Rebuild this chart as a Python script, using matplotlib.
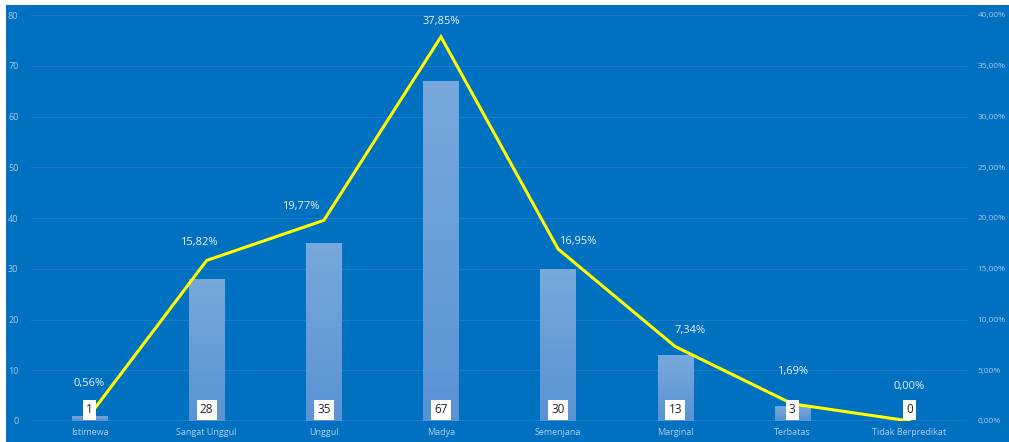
import matplotlib
matplotlib.use("Agg")
import matplotlib.pyplot as plt
import numpy as np
from matplotlib.colors import LinearSegmentedColormap
from matplotlib.patches import Rectangle

categories = ["Istimewa", "Sangat Unggul", "Unggul", "Madya", "Semenjana",
              "Marginal", "Terbatas", "Tidak Berpredikat"]
counts = [1, 28, 35, 67, 30, 13, 3, 0]
percents = [0.56, 15.82, 19.77, 37.85, 16.95, 7.34, 1.69, 0.00]
left_ticks = [0, 10, 20, 30, 40, 50, 60, 70, 80]
right_ticks = [0, 5, 10, 15, 20, 25, 30, 35, 40]

# label offsets in pixels (dx, dy) relative to line points
pct_offsets = [(0, 32), (-8, 18), (-23, 14), (0, 15), (20, 7), (15, 16), (0, 32), (0, 34)]

plt.rcParams['font.family'] = ['Open Sans', 'DejaVu Sans']

W, H = 1009, 442
fig = plt.figure(figsize=(W / 100, H / 100), dpi=100)
fig.patch.set_facecolor("white")
BG = "#0070C0"
fig.add_artist(Rectangle((6 / W, 0), 1 - 6 / W, 1 - 5 / H, transform=fig.transFigure,
                         facecolor=BG, edgecolor="none", zorder=0))

ax = fig.add_axes([31 / W, 21 / H, (968 - 31) / W, (421 - 15) / H])
ax.set_facecolor(BG)
ax.patch.set_alpha(0)
x = np.arange(len(categories))
ax.set_xlim(-0.5, len(categories) - 0.5)
ax.set_ylim(0, 80)

for s in ax.spines.values():
    s.set_visible(False)
ax.axhline(0, color="#8db7e2", lw=1.0, zorder=2)
for t in left_ticks[1:]:
    ax.axhline(t, color="#1a7bc6", lw=0.9, zorder=1)

ax.set_yticks(left_ticks)
ax.set_yticklabels([str(t) for t in left_ticks])
ax.tick_params(axis="y", length=0, labelsize=6.5, labelcolor="#a9c9ea", pad=9)
ax.set_xticks(x)
ax.set_xticklabels(categories)
ax.tick_params(axis="x", length=0, labelsize=6.5, labelcolor="#b5d0ec", pad=5)

cmap = LinearSegmentedColormap.from_list("g", ["#5893d5", "#78a8dc"])
grad = np.linspace(0, 1, 256).reshape(-1, 1)
bars = ax.bar(x, counts, width=0.3, color="#6a9fda", zorder=3)
for b in bars:
    h = b.get_height()
    if h <= 0:
        continue
    im = ax.imshow(grad, cmap=cmap, origin="lower", aspect="auto",
                   extent=(b.get_x(), b.get_x() + b.get_width(), 0, h), zorder=3.5)
    im.set_clip_path(b)
ax.set_xlim(-0.5, len(categories) - 0.5)
ax.set_ylim(0, 80)

ax2 = ax.twinx()
ax2.set_ylim(0, 40)
for s in ax2.spines.values():
    s.set_visible(False)
ax2.set_yticks(right_ticks)
ax2.set_yticklabels([f"{t},00%" for t in right_ticks])
ax2.tick_params(axis="y", length=0, labelsize=6, labelcolor="#a9c9ea", pad=7)
ax2.plot(x, percents, color="#FFFF00", lw=2.2, zorder=5, solid_joinstyle="miter")
for xi, p, (dx, dy) in zip(x, percents, pct_offsets):
    ax2.annotate(f"{p:.2f}%".replace(".", ","), (xi, p), xytext=(dx * 0.72, dy * 0.72),
                 textcoords="offset points", ha="center", va="center",
                 fontsize=8, color="#e8f1fb", zorder=6)

for xi, c in zip(x, counts):
    ax2.annotate(str(c), (xi, 0), xytext=(0, 8), textcoords="offset points",
                 ha="center", va="center", fontsize=8.5, color="#222222", zorder=7,
                 bbox=dict(boxstyle="square,pad=0.28", fc="white", ec="none"))

fig.savefig("out.png", dpi=100, facecolor="white")
